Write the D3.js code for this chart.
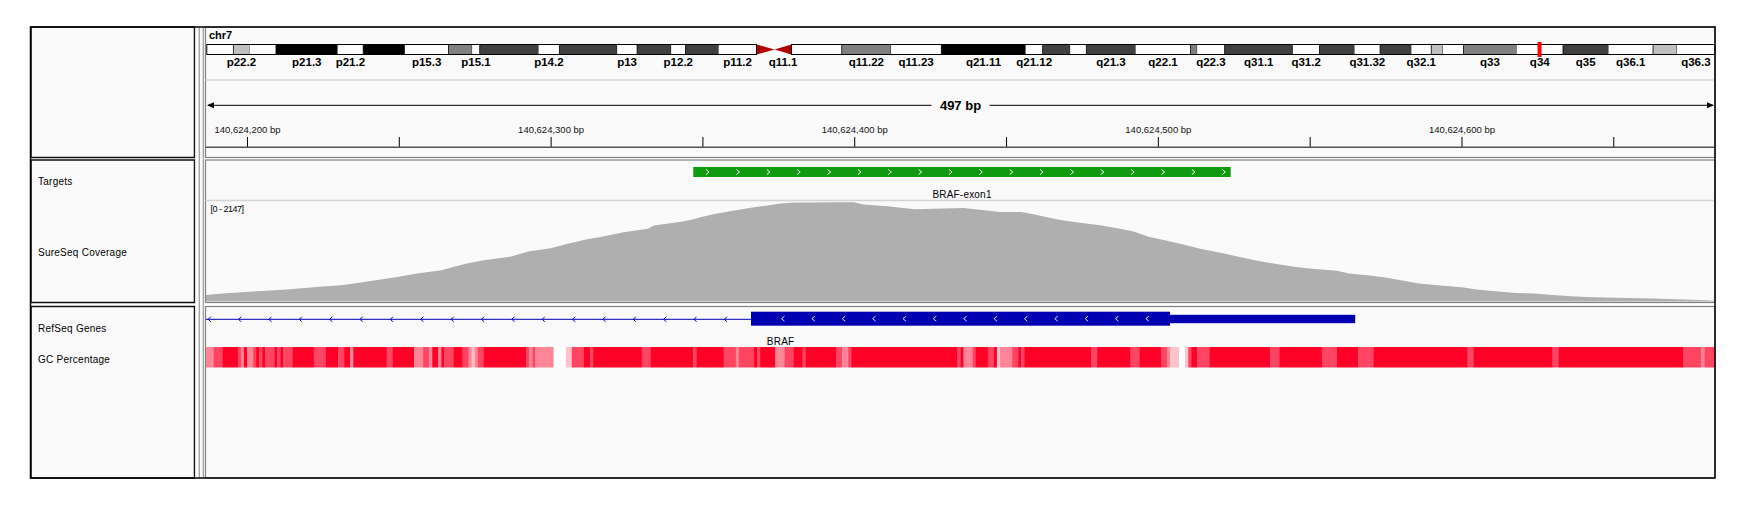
<!DOCTYPE html>
<html>
<head>
<meta charset="utf-8">
<script src="https://cdn.jsdelivr.net/npm/d3@7"></script>
<style>
  body { margin: 0; background: #fff; }
  text { font-family: "Liberation Sans", Arial, sans-serif; }
</style>
</head>
<body>
<div id="chart"></div>
<script>
// ---------------- data ----------------
const chromName = "chr7";
const chromLength = 159138663;

// hg19 chr7 cytobands (start in bp)
const bandNames = ["p22.3","p22.2","p22.1","p21.3","p21.2","p21.1","p15.3","p15.2","p15.1","p14.3","p14.2","p14.1","p13","p12.3","p12.2","p12.1","p11.2","p11.1","q11.1","q11.21","q11.22","q11.23","q21.11","q21.12","q21.13","q21.2","q21.3","q22.1","q22.2","q22.3","q31.1","q31.2","q31.31","q31.32","q31.33","q32.1","q32.2","q32.3","q33","q34","q35","q36.1","q36.2","q36.3"];
const bandStarts = [0,2800000,4500000,7300000,13800000,16500000,20900000,25500000,28000000,28800000,35000000,37200000,43300000,45400000,49000000,50500000,54000000,58000000,59900000,61700000,67000000,72200000,77500000,86400000,88200000,91100000,92800000,98000000,103800000,104500000,107400000,114600000,117400000,121100000,123800000,127100000,129200000,130400000,132600000,138200000,143100000,147900000,152600000,155100000];
const bandStains = ["gneg","gpos25","gneg","gpos100","gneg","gpos100","gneg","gpos50","gneg","gpos75","gneg","gpos75","gneg","gpos75","gneg","gpos75","gneg","acen","acen","gneg","gpos50","gneg","gpos100","gneg","gpos75","gneg","gpos75","gneg","gpos50","gneg","gpos75","gneg","gpos75","gneg","gpos75","gneg","gpos25","gneg","gpos50","gneg","gpos75","gneg","gpos25","gneg"];
// band names that have room for a label
const bandLabels = ["p22.2","p21.3","p21.2","p15.3","p15.1","p14.2","p13","p12.2","p11.2","q11.1","q11.22","q11.23","q21.11","q21.12","q21.3","q22.1","q22.3","q31.1","q31.2","q31.32","q32.1","q33","q34","q35","q36.1","q36.3"];

// visible locus
const locusBase = 140624000;
const viewStart = 140624186.5;
const viewEnd = 140624683.5;
const rulerTicks = [200, 250, 300, 350, 400, 450, 500, 550, 600, 650]; // offsets from locusBase

// target feature (offsets from locusBase)
const targetName = "BRAF-exon1";
const targetStart = 347;
const targetEnd = 524;

// gene feature (offsets from locusBase), minus strand
const geneName = "BRAF";
const geneThickStart = 366;
const geneThickEnd = 504;
const geneEnd = 565;

// coverage (offset from locusBase, depth)
const coverageMax = 2147;
const coveragePos = [186.5,192,202,213,218,225,231,237,244,250,256,264,272,278,287,293,300,306,312,316,324,332,334,343,347,349,354,360,368,376,380,387,393,400,403,411,420,426,436,443,448,455,459,467,473,481,488,492,497,503,508,514,521,527,532,537,545,550,559,563,569,575,581,586,593,600,605,613,618,624,630,636,641,650,663,681,683.5];
const coverageDepth = [142,171,214,257,286,322,350,400,472,529,601,672,808,887,966,1080,1145,1245,1338,1381,1488,1560,1632,1710,1768,1803,1880,1946,2032,2103,2125,2125,2132,2132,2082,2046,1982,1989,2010,1960,1924,1924,1875,1760,1703,1638,1559,1502,1388,1302,1230,1130,1040,958,887,829,744,708,658,600,565,515,443,386,343,307,257,207,185,171,142,114,99,78,64,28,14];

// GC percentage segments (start offset, shade level 0 = white .. 4 = full red)
const gcStart = [186.5,189,192,197,198,199,200,202,203,204,205,206,209,210,211,212,215,222,226,230,232,234,235,246,248,255,258,260,261,263,264,265,268,271,273,274,275,276,278,292,293,294,295,301,305,307,311,313,314,330,333,347,348,357,361,362,367,368,369,374,377,380,383,384,394,396,398,399,434,435,436,439,440,444,446,447,448,452,454,455,456,478,480,491,494,501,503,504,507,509,510,511,513,517,537,540,554,559,566,571,602,604,630,632,673,679,680];
const gcLevel = [2,3,4,3,2,4,2,3,4,3,4,3,4,3,4,3,4,3,4,3,4,2,4,3,4,2,3,2,4,2,4,3,4,3,2,1,2,3,4,3,2,3,2,0,1,3,4,3,4,3,4,3,4,3,2,3,4,3,4,2,3,4,3,4,3,2,3,4,3,4,2,3,4,3,4,1,2,3,4,3,4,3,4,3,4,3,2,1,0,1,3,4,3,4,3,4,3,4,3,4,3,4,3,4,3,2,3];

// track names in the left panel
const trackNames = ["Targets", "SureSeq Coverage", "RefSeq Genes", "GC Percentage"];

// ---------------- layout ----------------
const width = 1752, height = 516;
const frame = { left: 30.5, right: 1715, top: 27, bottom: 478 };
const nameRight = 194.5;
const dataLeft = 205.5;
const rows = [[27, 157.5], [160, 302.5], [306.5, 478]];
const bg = "#fafafa";
const stainColor = { gneg: "#ffffff", gpos25: "#c0c0c0", gpos50: "#808080", gpos75: "#404040", gpos100: "#000000" };
const gcColors = ["#ffffff", "#ffc1ca", "#ff8597", "#ff4562", "#ff0026"];
const geneColor = "#0000b2";
const targetColor = "#109a10";
const coverageColor = "#afafaf";

const svg = d3.select("#chart").append("svg")
    .attr("width", width)
    .attr("height", height)
    .style("display", "block");

svg.append("rect").attr("width", width).attr("height", height).attr("fill", "#fff");

// ---------------- panels ----------------
rows.forEach(([y0, y1]) => {
    svg.append("rect")
        .attr("x", frame.left + 0.5).attr("y", y0)
        .attr("width", nameRight - frame.left - 0.5).attr("height", y1 - y0)
        .attr("fill", bg).attr("stroke", "#111").attr("stroke-width", 1.5);
    svg.append("rect")
        .attr("x", nameRight + 1).attr("y", y0)
        .attr("width", dataLeft - nameRight - 1).attr("height", y1 - y0)
        .attr("fill", bg);
    svg.append("rect")
        .attr("x", dataLeft).attr("y", y0)
        .attr("width", frame.right - dataLeft).attr("height", y1 - y0)
        .attr("fill", bg).attr("stroke", "#808080").attr("stroke-width", 1.2);
});
// attribute column separators
[199.3, 203.3].forEach(xx => {
    svg.append("line")
        .attr("x1", xx).attr("x2", xx).attr("y1", frame.top).attr("y2", frame.bottom)
        .attr("stroke", "#9a9a9a").attr("stroke-width", 1.2);
});

// ---------------- scales ----------------
const x = d3.scaleLinear().domain([viewStart, viewEnd]).range([dataLeft + 0.5, frame.right]);
const xc = d3.scaleLinear().domain([0, chromLength]).range([206.8, frame.right]);
const yCov = d3.scaleLinear().domain([0, coverageMax]).range([301.5, 201.5]);

// ---------------- ideogram ----------------
const ideo = svg.append("g");
const ideoY = 44.5, ideoH = 10;
const bands = bandNames.map((name, i) => ({
    name,
    start: bandStarts[i],
    end: i < bandNames.length - 1 ? bandStarts[i + 1] : chromLength,
    stain: bandStains[i]
}));

ideo.append("text")
    .attr("x", 209).attr("y", 39)
    .attr("font-size", 11).attr("font-weight", "bold")
    .text(chromName);

ideo.selectAll("rect.band")
    .data(bands.filter(b => b.stain !== "acen"))
    .join("rect")
        .attr("class", "band")
        .attr("x", d => xc(d.start))
        .attr("y", ideoY)
        .attr("width", d => xc(d.end) - xc(d.start))
        .attr("height", ideoH)
        .attr("fill", d => stainColor[d.stain])
        .attr("stroke", d => d.stain === "gneg" ? "none" : "#000")
        .attr("stroke-width", 0.8);

// centromere triangles
const acen = bands.filter(b => b.stain === "acen");
ideo.selectAll("path.acen")
    .data(acen)
    .join("path")
        .attr("class", "acen")
        .attr("fill", "#b00000")
        .attr("d", (d, i) => {
            const base = i === 0 ? xc(d.start) : xc(d.end);
            const tip = i === 0 ? xc(d.end) : xc(d.start);
            return `M${base},${ideoY}L${tip},${ideoY + ideoH / 2}L${base},${ideoY + ideoH}Z`;
        });

// arm outlines
const cenStart = acen[0].start, cenEnd = acen[1].end;
[[0, cenStart], [cenEnd, chromLength]].forEach(([s, e]) => {
    ideo.append("rect")
        .attr("x", xc(s)).attr("y", ideoY)
        .attr("width", xc(e) - xc(s)).attr("height", ideoH)
        .attr("fill", "none").attr("stroke", "#000").attr("stroke-width", 1);
});

// band labels
ideo.selectAll("text.bandlabel")
    .data(bands.filter(b => bandLabels.includes(b.name)))
    .join("text")
        .attr("class", "bandlabel")
        .attr("x", d => xc((d.start + d.end) / 2))
        .attr("y", 65.5)
        .attr("text-anchor", "middle")
        .attr("font-size", 11.5)
        .attr("font-weight", "bold")
        .text(d => d.name);

// current view marker
const viewMid = (viewStart + viewEnd) / 2;
ideo.append("rect")
    .attr("x", xc(viewMid) - 2).attr("y", 42)
    .attr("width", 4).attr("height", 15)
    .attr("fill", "#ff0000");

// separator under ideogram
svg.append("line")
    .attr("x1", dataLeft).attr("x2", frame.right).attr("y1", 80).attr("y2", 80)
    .attr("stroke", "#d4d4da").attr("stroke-width", 1.5);

// ---------------- span line ----------------
const spanY = 105.3;
const spanLabel = `${Math.round(viewEnd - viewStart)} bp`;
svg.append("line")
    .attr("x1", x(viewStart) + 2).attr("x2", x(viewEnd) - 2)
    .attr("y1", spanY).attr("y2", spanY)
    .attr("stroke", "#000").attr("stroke-width", 1);
svg.append("path")
    .attr("d", `M${x(viewStart) + 1},${spanY}l7,-3v6z M${x(viewEnd) - 1},${spanY}l-7,-3v6z`)
    .attr("fill", "#000");
const mid = x(viewMid);
svg.append("rect")
    .attr("x", mid - 29).attr("y", spanY - 8).attr("width", 58).attr("height", 16)
    .attr("fill", bg);
svg.append("text")
    .attr("x", mid).attr("y", spanY + 4.8)
    .attr("text-anchor", "middle")
    .attr("font-size", 13).attr("font-weight", "bold")
    .text(spanLabel);

// ---------------- ruler ----------------
const rulerAxis = d3.axisTop(x)
    .tickValues(rulerTicks.map(d => locusBase + d))
    .tickSize(10)
    .tickPadding(4)
    .tickFormat(d => (d - locusBase) % 100 === 0 ? d3.format(",")(d) + " bp" : "");

const rulerG = svg.append("g")
    .attr("transform", "translate(0,147)")
    .call(rulerAxis);
rulerG.select(".domain").remove();
rulerG.selectAll(".tick line").attr("stroke", "#000");
rulerG.selectAll(".tick text")
    .attr("font-size", 9.5)
    .attr("font-family", "Liberation Sans, Arial, sans-serif")
    .attr("fill", "#111");
svg.append("line")
    .attr("x1", dataLeft).attr("x2", frame.right).attr("y1", 147.2).attr("y2", 147.2)
    .attr("stroke", "#555").attr("stroke-width", 1.6);

// ---------------- chevrons ----------------
const chevron = (cx, cy, w, h, dir) =>
    `M${cx - dir * w / 2},${cy - h / 2}L${cx + dir * w / 2},${cy}L${cx - dir * w / 2},${cy + h / 2}`;
const chevronXs = (x0, x1, offset) => d3.range(x0 + offset, x1 - 4, x(viewStart + 10) - x(viewStart));

// ---------------- targets ----------------
const tx0 = x(locusBase + targetStart), tx1 = x(locusBase + targetEnd);
svg.append("rect")
    .attr("x", tx0).attr("y", 167).attr("width", tx1 - tx0).attr("height", 10)
    .attr("fill", targetColor);
svg.append("g").selectAll("path")
    .data(chevronXs(tx0, tx1, 14.3))
    .join("path")
        .attr("d", d => chevron(d, 172, 3, 5, 1))
        .attr("fill", "none").attr("stroke", "#fff").attr("stroke-width", 1);
svg.append("text")
    .attr("x", (tx0 + tx1) / 2).attr("y", 197.5)
    .attr("text-anchor", "middle").attr("font-size", 10)
    .attr("letter-spacing", 0.2)
    .text(targetName);

// coverage track boundary
svg.append("line")
    .attr("x1", dataLeft).attr("x2", frame.right).attr("y1", 200.6).attr("y2", 200.6)
    .attr("stroke", "#d4d4d8").attr("stroke-width", 1.5);

// ---------------- coverage ----------------
const coverage = coveragePos.map((p, i) => ({ pos: locusBase + p, depth: coverageDepth[i] }));
const area = d3.area()
    .x(d => x(d.pos))
    .y0(yCov(0))
    .y1(d => yCov(d.depth));
svg.append("path")
    .datum(coverage)
    .attr("d", area)
    .attr("fill", coverageColor);
svg.append("text")
    .attr("x", 210.5).attr("y", 211.5)
    .attr("font-size", 9)
    .attr("letter-spacing", -0.5)
    .attr("fill", "#000")
    .text(`[0 - ${coverageMax}]`);

// ---------------- gene ----------------
const gx0 = x(viewStart), gxThick0 = x(locusBase + geneThickStart),
      gxThick1 = x(locusBase + geneThickEnd), gx1 = x(locusBase + geneEnd);
svg.append("line")
    .attr("x1", gx0).attr("x2", gxThick0).attr("y1", 319.3).attr("y2", 319.3)
    .attr("stroke", geneColor).attr("stroke-width", 1);
svg.append("g").selectAll("path")
    .data(chevronXs(gx0, gxThick0, 3.5))
    .join("path")
        .attr("d", d => chevron(d, 319.3, 2.5, 5, -1))
        .attr("fill", "none").attr("stroke", geneColor).attr("stroke-width", 1);
svg.append("rect")
    .attr("x", gxThick0).attr("y", 311.7).attr("width", gxThick1 - gxThick0).attr("height", 14)
    .attr("fill", geneColor);
svg.append("rect")
    .attr("x", gxThick1).attr("y", 314.8).attr("width", gx1 - gxThick1).attr("height", 8.4)
    .attr("fill", geneColor);
svg.append("g").selectAll("path")
    .data(chevronXs(gxThick0, gxThick1, 32))
    .join("path")
        .attr("d", d => chevron(d, 318.7, 3, 5, -1))
        .attr("fill", "none").attr("stroke", "#e0e0ff").attr("stroke-width", 1);
svg.append("text")
    .attr("x", (gx0 + gx1) / 2).attr("y", 344.5)
    .attr("text-anchor", "middle").attr("font-size", 10)
    .attr("letter-spacing", 0.2)
    .text(geneName);

// ---------------- GC percentage ----------------
const gc = gcStart.map((s, i) => ({
    start: locusBase + s,
    end: i < gcStart.length - 1 ? locusBase + gcStart[i + 1] : viewEnd,
    level: gcLevel[i]
}));
svg.append("g").selectAll("rect")
    .data(gc)
    .join("rect")
        .attr("x", d => x(d.start))
        .attr("y", 347)
        .attr("width", d => x(d.end) - x(d.start) + 0.3)
        .attr("height", 20.5)
        .attr("fill", d => gcColors[d.level]);

// ---------------- track names ----------------
const nameY = [185, 256, 332, 363];
svg.append("g").selectAll("text")
    .data(trackNames)
    .join("text")
        .attr("x", 38)
        .attr("y", (d, i) => nameY[i])
        .attr("font-size", 10)
        .attr("letter-spacing", 0.25)
        .text(d => d);

// ---------------- outer frame ----------------
svg.append("rect")
    .attr("x", frame.left).attr("y", frame.top)
    .attr("width", frame.right - frame.left).attr("height", frame.bottom - frame.top)
    .attr("fill", "none").attr("stroke", "#000").attr("stroke-width", 1.5);
</script>
</body>
</html>
